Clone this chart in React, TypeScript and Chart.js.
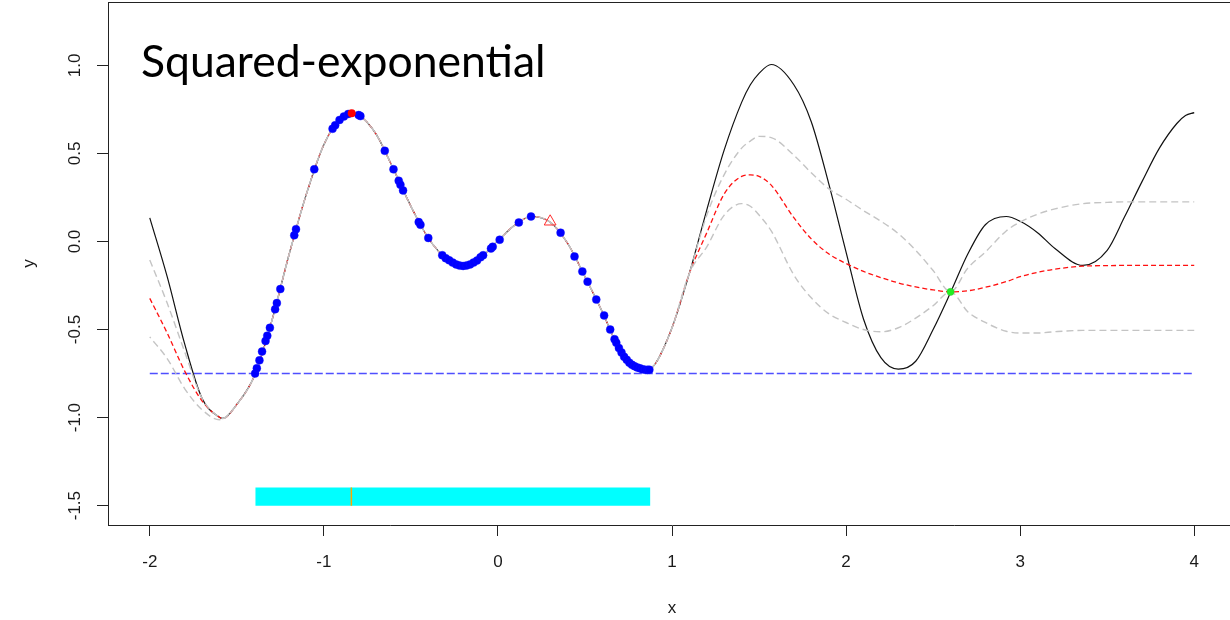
import { useEffect, useRef } from "react";
import { Chart, registerables } from "chart.js";

Chart.register(...registerables);

// Evaluation grid shared by the curves
const gridX = [
  -2, -1.9, -1.8, -1.7, -1.6, -1.58, -1.5, -1.4, -1.3, -1.2, -1.1, -1.0, -0.9, -0.84, -0.8, -0.7,
  -0.6, -0.5, -0.4, -0.3, -0.21, -0.1, 0, 0.1, 0.19, 0.3, 0.4, 0.5, 0.6, 0.7, 0.8, 0.85,
  0.9, 1.0, 1.1, 1.2, 1.3, 1.4, 1.45, 1.5, 1.57, 1.7, 1.8, 1.9, 2.0, 2.1, 2.2, 2.3,
  2.4, 2.5, 2.6, 2.7, 2.8, 2.92, 3.0, 3.1, 3.2, 3.36, 3.5, 3.6, 3.7, 3.8, 3.9, 3.95, 4.0,
];

// True objective function
const trueF = [
  0.134, -0.2, -0.58, -0.89, -0.998, -1.005, -0.925, -0.765, -0.455, -0.075, 0.27, 0.55, 0.705, 0.728, 0.718, 0.61,
  0.41, 0.2, 0.02, -0.095, -0.14, -0.09, 0.005, 0.095, 0.142, 0.11, -0.01, -0.2, -0.4, -0.615, -0.715, -0.73,
  -0.7, -0.49, -0.18, 0.18, 0.52, 0.79, 0.89, 0.955, 1.005, 0.89, 0.68, 0.33, -0.06, -0.44, -0.66, -0.725,
  -0.68, -0.5, -0.29, -0.07, 0.095, 0.142, 0.115, 0.05, -0.04, -0.136, -0.05, 0.14, 0.34, 0.53, 0.67, 0.715, 0.732,
];

// GP posterior mean
const postMean = [
  -0.323, -0.52, -0.735, -0.905, -0.998, -1.005, -0.925, -0.765, -0.455, -0.075, 0.27, 0.55, 0.705, 0.728, 0.718, 0.61,
  0.41, 0.2, 0.02, -0.095, -0.14, -0.09, 0.005, 0.095, 0.142, 0.11, -0.01, -0.2, -0.4, -0.615, -0.715, -0.73,
  -0.7, -0.49, -0.18, 0.05, 0.27, 0.37, 0.378, 0.37, 0.32, 0.135, 0.015, -0.07, -0.125, -0.17, -0.205, -0.235,
  -0.258, -0.275, -0.286, -0.28, -0.26, -0.228, -0.2, -0.175, -0.157, -0.14, -0.137, -0.136, -0.136, -0.136, -0.136, -0.136, -0.136,
];

// Upper credible band
const upperBand = [
  -0.105, -0.35, -0.625, -0.89, -0.998, -1.005, -0.925, -0.765, -0.455, -0.075, 0.27, 0.55, 0.705, 0.728, 0.718, 0.61,
  0.41, 0.2, 0.02, -0.095, -0.14, -0.09, 0.005, 0.095, 0.142, 0.11, -0.01, -0.2, -0.4, -0.615, -0.715, -0.73,
  -0.7, -0.49, -0.18, 0.15, 0.38, 0.53, 0.57, 0.597, 0.59, 0.49, 0.39, 0.3, 0.24, 0.175, 0.115, 0.045,
  -0.05, -0.165, -0.286, -0.15, -0.06, 0.06, 0.11, 0.155, 0.185, 0.215, 0.222, 0.225, 0.225, 0.225, 0.225, 0.225, 0.225,
];

// Lower credible band
const lowerBand = [
  -0.542, -0.665, -0.835, -0.955, -1.012, -1.008, -0.925, -0.765, -0.455, -0.075, 0.27, 0.55, 0.705, 0.728, 0.718, 0.61,
  0.41, 0.2, 0.02, -0.095, -0.14, -0.09, 0.005, 0.095, 0.142, 0.11, -0.01, -0.2, -0.4, -0.615, -0.715, -0.73,
  -0.7, -0.49, -0.18, -0.03, 0.15, 0.215, 0.2, 0.15, 0.06, -0.19, -0.32, -0.41, -0.46, -0.5, -0.513, -0.49,
  -0.435, -0.365, -0.286, -0.4, -0.46, -0.51, -0.52, -0.52, -0.512, -0.505, -0.505, -0.505, -0.505, -0.505, -0.505, -0.505, -0.505,
];

// Observed samples
const sampleX = [
  -1.395, -1.385, -1.37, -1.355, -1.335, -1.325, -1.31, -1.28, -1.27, -1.25, -1.17, -1.16, -1.055, -0.95, -0.935, -0.91,
  -0.885, -0.86, -0.8, -0.79, -0.65, -0.6, -0.57, -0.56, -0.545, -0.455, -0.445, -0.4, -0.32, -0.3, -0.28, -0.26,
  -0.24, -0.22, -0.2, -0.18, -0.16, -0.14, -0.12, -0.1, -0.085, -0.04, -0.03, 0.01, 0.12, 0.19, 0.36, 0.44,
  0.485, 0.515, 0.565, 0.61, 0.645, 0.67, 0.68, 0.695, 0.71, 0.725, 0.74, 0.755, 0.77, 0.785, 0.8, 0.815,
  0.83, 0.845, 0.86, 0.87,
];
const sampleY = [
  -0.75, -0.72, -0.675, -0.625, -0.565, -0.535, -0.49, -0.385, -0.35, -0.27, 0.035, 0.07, 0.41, 0.64, 0.66, 0.69,
  0.71, 0.724, 0.718, 0.712, 0.515, 0.41, 0.345, 0.322, 0.29, 0.11, 0.095, 0.02, -0.078, -0.095, -0.107, -0.12,
  -0.13, -0.137, -0.139, -0.136, -0.13, -0.12, -0.108, -0.09, -0.078, -0.04, -0.03, 0.01, 0.108, 0.142, 0.05, -0.085,
  -0.17, -0.228, -0.33, -0.42, -0.5, -0.555, -0.575, -0.605, -0.63, -0.655, -0.672, -0.688, -0.7, -0.708, -0.715, -0.72,
  -0.725, -0.728, -0.729, -0.728,
];

// Best observed point, proposed candidate, newly evaluated point
const bestX = [-0.84];
const bestY = [0.728];
const candX = [0.3];
const candY = [0.113];
const newX = [2.6];
const newY = [-0.286];

// Threshold line
const thresholdX = [-2, 4];
const thresholdY = [-0.75, -0.75];

// Sampled range bar and marker of the best x
const rangeBarX = [-1.394, 0.876];
const rangeBarTop = [-1.397, -1.397];
const rangeBarBottom = [-1.5, -1.5];
const rangeMarkX = [-0.842, -0.842];
const rangeMarkY = [-1.397, -1.5];

// Axis ticks
const xTickValues = [-2, -1, 0, 1, 2, 3, 4];
const xTickLabels = ["-2", "-1", "0", "1", "2", "3", "4"];
const yTickValues = [-1.5, -1, -0.5, 0, 0.5, 1];
const yTickLabels = ["-1.5", "-1.0", "-0.5", "0.0", "0.5", "1.0"];

const TITLE = "Squared-exponential";
const R_FONT = '"Liberation Sans", Arial, sans-serif';

const pts = (xs: number[], ys: number[]) => xs.map((x, i) => ({ x, y: ys[i] }));

const textPlugin = {
  id: "plotText",
  afterDraw(chart: any) {
    const { ctx, chartArea, scales } = chart;
    const xs = scales.x;
    const ys = scales.y;
    ctx.save();
    // top edge of the plot box
    ctx.strokeStyle = "#222";
    ctx.lineWidth = 1;
    ctx.beginPath();
    ctx.moveTo(chartArea.left, chartArea.top + 0.5);
    ctx.lineTo(chartArea.right, chartArea.top + 0.5);
    ctx.stroke();

    ctx.fillStyle = "#1a1a1a";
    ctx.font = `17px ${R_FONT}`;
    ctx.textAlign = "center";
    ctx.textBaseline = "alphabetic";
    xTickValues.forEach((v, i) => {
      ctx.fillText(xTickLabels[i], xs.getPixelForValue(v), chartArea.bottom + 42);
    });
    yTickValues.forEach((v, i) => {
      ctx.save();
      ctx.translate(chartArea.left - 28, ys.getPixelForValue(v));
      ctx.rotate(-Math.PI / 2);
      ctx.fillText(yTickLabels[i], 0, 0);
      ctx.restore();
    });
    // axis titles
    ctx.fillText("x", (chartArea.left + chartArea.right) / 2, 613);
    ctx.save();
    ctx.translate(34, (chartArea.top + chartArea.bottom) / 2);
    ctx.rotate(-Math.PI / 2);
    ctx.fillText("y", 0, 0);
    ctx.restore();

    // kernel name
    ctx.fillStyle = "#000";
    ctx.font = '44.5px Lato, "Open Sans", sans-serif';
    ctx.textAlign = "left";
    ctx.fillText(TITLE, 141, 77);
    ctx.restore();
  },
};

export default function App() {
  const canvasRef = useRef<HTMLCanvasElement | null>(null);

  useEffect(() => {
    const canvas = canvasRef.current;
    if (!canvas) return;

    const curve = (data: any, color: string, width: number, dash: number[], dashOffset = 0) => ({
      type: "line",
      data,
      borderColor: color,
      borderWidth: width,
      borderDash: dash,
      borderDashOffset: dashOffset,
      pointRadius: 0,
      fill: false,
      cubicInterpolationMode: "monotone",
    });

    const chart = new Chart(canvas, {
      type: "line",
      data: {
        datasets: [
          {
            type: "scatter",
            data: pts(newX, newY),
            pointRadius: 3.6,
            backgroundColor: "#22ee22",
            borderColor: "#33cc33",
            borderWidth: 0.5,
          },
          {
            type: "scatter",
            data: pts(candX, candY),
            pointStyle: "triangle",
            pointRadius: 6.8,
            backgroundColor: "rgba(0,0,0,0)",
            borderColor: "#ff2a2a",
            borderWidth: 1,
          },
          {
            type: "scatter",
            data: pts(bestX, bestY),
            pointRadius: 4,
            backgroundColor: "#ff0000",
            borderColor: "#ff0000",
            borderWidth: 0,
          },
          {
            type: "scatter",
            data: pts(sampleX, sampleY),
            pointRadius: 4,
            backgroundColor: "#0000ff",
            borderColor: "#1010ff",
            borderWidth: 0.4,
          },
          curve(pts(gridX, lowerBand), "#c4c4c4", 1.4, [7, 4], 5.5),
          curve(pts(gridX, upperBand), "#c4c4c4", 1.4, [7, 4], 0),
          curve(pts(gridX, postMean), "#ff1010", 1.3, [5, 3]),
          curve(pts(gridX, trueF), "#111111", 1.2, []),
          {
            type: "line",
            data: pts(thresholdX, thresholdY),
            borderColor: "rgba(70,70,255,0.95)",
            borderWidth: 1.5,
            borderDash: [8, 3],
            pointRadius: 0,
            fill: false,
          },
          {
            type: "line",
            data: pts(rangeMarkX, rangeMarkY),
            borderColor: "#ffa500",
            borderWidth: 1.5,
            pointRadius: 0,
            fill: false,
          },
          {
            type: "line",
            data: pts(rangeBarX, rangeBarTop),
            borderWidth: 0,
            borderColor: "rgba(0,0,0,0)",
            backgroundColor: "#00ffff",
            pointRadius: 0,
            fill: "+1",
          },
          {
            type: "line",
            data: pts(rangeBarX, rangeBarBottom),
            borderWidth: 0,
            borderColor: "rgba(0,0,0,0)",
            pointRadius: 0,
            fill: false,
          },
        ] as any,
      },
      options: {
        responsive: false,
        devicePixelRatio: 1,
        animation: false,
        events: [],
        layout: { autoPadding: false, padding: { top: 2, right: 4, left: 0, bottom: 0 } },
        plugins: {
          legend: { display: false },
          tooltip: { enabled: false },
          title: { display: false },
        },
        scales: {
          x: {
            type: "linear",
            min: -2.24,
            max: 4.24,
            afterBuildTicks: (s: any) => {
              s.ticks = xTickValues.map((v) => ({ value: v }));
            },
            afterFit: (s: any) => {
              s.height = 95;
            },
            ticks: { display: false },
            grid: {
              display: true,
              drawOnChartArea: false,
              drawTicks: true,
              tickLength: 11,
              color: "#222",
              lineWidth: 1,
            },
            border: { display: true, color: "#222", width: 1 },
          },
          y: {
            type: "linear",
            min: -1.61,
            max: 1.36,
            afterBuildTicks: (s: any) => {
              s.ticks = yTickValues.map((v) => ({ value: v }));
            },
            afterFit: (s: any) => {
              s.width = 108;
            },
            ticks: { display: false },
            grid: {
              display: true,
              drawOnChartArea: false,
              drawTicks: true,
              tickLength: 11,
              color: "#222",
              lineWidth: 1,
            },
            border: { display: true, color: "#222", width: 1 },
          },
        },
      } as any,
      plugins: [textPlugin],
    });

    return () => chart.destroy();
  }, []);

  return (
    <div
      style={{
        position: "absolute",
        left: 0,
        top: 0,
        width: 1230,
        height: 620,
        overflow: "hidden",
        background: "#fff",
      }}
    >
      <canvas ref={canvasRef} width={1240} height={620} style={{ display: "block" }} />
    </div>
  );
}
